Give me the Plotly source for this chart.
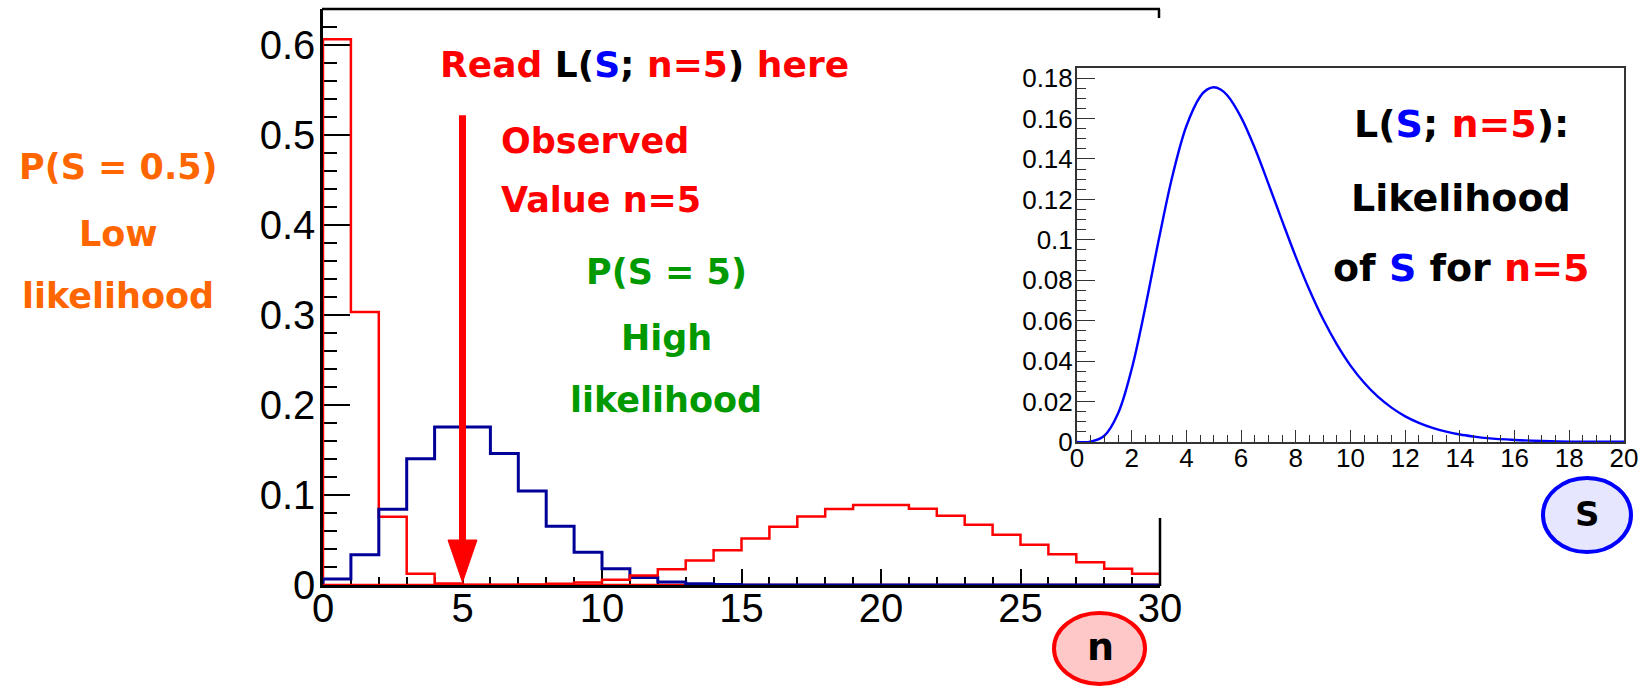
import plotly.graph_objects as go

W, H = 1639, 687

# ---------------- data ----------------
bin_edges = list(range(31))
# P(n | S=0.5)  (red, low)
red_low = [0.6065, 0.3033, 0.0758, 0.0126, 0.0016, 0.0002] + [0.0] * 24
# P(n | S=5)  (blue)
blue_mid = [0.0067, 0.0337, 0.0842, 0.1404, 0.1755, 0.1755, 0.1462, 0.1044,
            0.0653, 0.0363, 0.0181, 0.0082, 0.0034, 0.0013, 0.0005] + [0.0] * 15
# P(n | S=20)  (red, high)
red_high = [0.0, 0.0, 0.0, 0.0, 0.0, 0.0001, 0.0002, 0.0005, 0.0013, 0.0029,
            0.0058, 0.0106, 0.0176, 0.0271, 0.0387, 0.0516, 0.0646, 0.0760,
            0.0844, 0.0888, 0.0888, 0.0846, 0.0769, 0.0669, 0.0557, 0.0446,
            0.0343, 0.0254, 0.0181, 0.0125]

# Likelihood curve L(S; n=5)
lik_s = [0, 0.5, 1, 1.5, 2, 2.5, 3, 3.5, 4, 4.5, 4.75, 5, 5.25, 5.5, 6, 6.5, 7, 7.5, 8, 8.5,
         9, 9.5, 10, 10.5, 11, 11.5, 12, 12.5, 13, 13.5, 14, 14.5, 15, 16, 17,
         18, 19, 20]
lik_v = [0.0, 0.0002, 0.0031, 0.0141, 0.0361, 0.0668, 0.1008, 0.1322, 0.1563,
         0.1708, 0.1743, 0.1755, 0.1744, 0.1714, 0.1606, 0.1454, 0.1277, 0.1094, 0.0916, 0.0752,
         0.0607, 0.0483, 0.0378, 0.0293, 0.0224, 0.0170, 0.0127, 0.0095, 0.0070,
         0.0051, 0.0037, 0.0027, 0.0019, 0.0010, 0.0005, 0.0002, 0.0001, 0.0001]

main_xticks = [0, 5, 10, 15, 20, 25, 30]
main_yticks = [0, 0.1, 0.2, 0.3, 0.4, 0.5, 0.6]
main_ylabels = ["0", "0.1", "0.2", "0.3", "0.4", "0.5", "0.6"]
inset_xticks = [0, 2, 4, 6, 8, 10, 12, 14, 16, 18, 20]
inset_yticks = [0, 0.02, 0.04, 0.06, 0.08, 0.1, 0.12, 0.14, 0.16, 0.18]
inset_ylabels = ["0", "0.02", "0.04", "0.06", "0.08", "0.1", "0.12", "0.14", "0.16", "0.18"]

RED = "#ff0000"
NAVY = "#000099"
BLUE = "#0000ff"
GREEN = "#009a00"
ORANGE = "#ff6600"


def px(x):
    return x / W


def py(y):
    return 1 - y / H


def hist_xy(vals):
    xs = [bin_edges[0]] + bin_edges
    ys = [0.0] + list(vals) + [vals[-1]]
    return xs, ys


fig = go.Figure()

for vals, col, wid in [(red_low, RED, 2.5), (blue_mid, NAVY, 3), (red_high, RED, 2.5)]:
    xs, ys = hist_xy(vals)
    fig.add_trace(go.Scatter(x=xs, y=ys, mode="lines", line=dict(color=col, width=wid, shape="hv"),
                             xaxis="x", yaxis="y", showlegend=False, hoverinfo="skip"))

fig.add_trace(go.Scatter(x=lik_s, y=lik_v, mode="lines", line=dict(color=BLUE, width=2.4, shape="spline", smoothing=1.0),
                         xaxis="x2", yaxis="y2", showlegend=False, hoverinfo="skip"))

tickfont_main = dict(family="Liberation Sans, Arial", size=40, color="black")
tickfont_inset = dict(family="Liberation Sans, Arial", size=26, color="black")

fig.update_layout(
    width=W, height=H,
    margin=dict(l=0, r=0, t=0, b=0, autoexpand=False),
    paper_bgcolor="white", plot_bgcolor="rgba(0,0,0,0)",
    xaxis=dict(domain=[px(323), px(1160)], range=[0, 30], tickvals=main_xticks,
               ticks="inside", ticklen=16, tickwidth=1.5, tickcolor="black",
               minor=dict(ticks="inside", dtick=1, ticklen=8, tickwidth=1.5, tickcolor="black"),
               showline=True, linecolor="black", linewidth=2.5, showgrid=False, zeroline=False,
               tickfont=tickfont_main, anchor="y", layer="below traces", ticklabelstandoff=-14,
               automargin=False),
    yaxis=dict(domain=[py(585), py(9)], range=[0, 0.64], tickvals=main_yticks, ticktext=main_ylabels,
               ticks="inside", ticklen=27, tickwidth=1.5, tickcolor="black",
               minor=dict(ticks="inside", dtick=0.02, ticklen=14, tickwidth=1.5, tickcolor="black"),
               showline=True, linecolor="black", linewidth=2.5, showgrid=False, zeroline=False,
               tickfont=tickfont_main, anchor="x", layer="below traces", ticklabelstandoff=-3,
               automargin=False),
    xaxis2=dict(domain=[px(1077), px(1624)], range=[0, 20], tickvals=inset_xticks,
                ticks="inside", ticklen=12, tickwidth=1.2, tickcolor="#333",
                minor=dict(ticks="inside", dtick=0.5, ticklen=7, tickwidth=1.2, tickcolor="#333"),
                showline=True, mirror=True, linecolor="#333", linewidth=2, showgrid=False, zeroline=False,
                tickfont=tickfont_inset, anchor="y2", ticklabelstandoff=-8, automargin=False),
    yaxis2=dict(domain=[py(442), py(68)], range=[0, 0.185], tickvals=inset_yticks, ticktext=inset_ylabels,
                ticks="inside", ticklen=18, tickwidth=1.2, tickcolor="#333",
                minor=dict(ticks="inside", dtick=0.005, ticklen=9, tickwidth=1.2, tickcolor="#333"),
                showline=True, mirror=True, linecolor="#333", linewidth=2, showgrid=False, zeroline=False,
                tickfont=tickfont_inset, anchor="x2", ticklabelstandoff=-3, automargin=False),
)

shapes = []
# main frame top border and visible right border pieces
shapes.append(dict(type="line", xref="paper", yref="paper", x0=px(322), x1=px(1160), y0=py(9), y1=py(9),
                   line=dict(color="black", width=2.5)))
shapes.append(dict(type="line", xref="paper", yref="paper", x0=px(1159), x1=px(1159), y0=py(9), y1=py(18),
                   line=dict(color="black", width=2.5)))
shapes.append(dict(type="line", xref="paper", yref="paper", x0=px(1160), x1=px(1160), y0=py(518), y1=py(586),
                   line=dict(color="black", width=2.5)))

# arrow at observed n = 5
ARROW_X = 5
ARROW_TOP = 0.522
ARROW_HEAD_BASE = 0.05
ARROW_TIP = 0.003
ARROW_HALF = 0.52
shapes.append(dict(type="line", xref="x", yref="y", x0=ARROW_X, x1=ARROW_X, y0=ARROW_TOP, y1=ARROW_HEAD_BASE,
                   line=dict(color=RED, width=7)))
shapes.append(dict(type="path", xref="x", yref="y",
                   path=f"M {ARROW_X - ARROW_HALF} {ARROW_HEAD_BASE} L {ARROW_X + ARROW_HALF} {ARROW_HEAD_BASE} L {ARROW_X} {ARROW_TIP} Z",
                   fillcolor=RED, line=dict(color=RED, width=1)))

# ellipses for axis names
shapes.append(dict(type="circle", xref="paper", yref="paper", x0=px(1054), x1=px(1145), y0=py(684), y1=py(613),
                   fillcolor="#ffc8c8", line=dict(color=RED, width=4), layer="below"))
shapes.append(dict(type="circle", xref="paper", yref="paper", x0=px(1543), x1=px(1631), y0=py(552), y1=py(478),
                   fillcolor="#e6e6ff", line=dict(color=BLUE, width=4), layer="below"))
fig.update_layout(shapes=shapes)

AFONT = "DejaVu Sans"


def ann(text, x, y, size=36, color="black", xanchor="center"):
    fig.add_annotation(text=text, x=px(x), y=py(y), xref="paper", yref="paper", showarrow=False,
                       xanchor=xanchor, yanchor="middle",
                       font=dict(family=AFONT, size=size, color=color, weight="bold"))


def sp(t, c):
    return f"<span style='color:{c}'>{t}</span>"


ann(sp("Read ", RED) + sp("L(", "black") + sp("S", BLUE) + sp("; ", "black") + sp("n=5", RED)
    + sp(")", "black") + sp(" here", RED), 644, 64, color=RED)
ann("Observed", 499, 141, size=35, color=RED, xanchor="left")
ann("Value n=5", 499, 200, size=35, color=RED, xanchor="left")
ann("P(S = 5)", 666, 272, size=35, color=GREEN)
ann("High", 666, 338, size=35, color=GREEN)
ann("likelihood", 666, 400, size=35, color=GREEN)
ann("P(S = 0.5)", 118, 167, size=35, color=ORANGE)
ann("Low", 118, 234, size=35, color=ORANGE)
ann("likelihood", 118, 296, size=35, color=ORANGE)
ann(sp("L(", "black") + sp("S", BLUE) + sp("; ", "black") + sp("n=5", RED) + sp("):", "black"), 1461, 124, size=38)
ann("Likelihood", 1461, 198, size=38)
ann(sp("of ", "black") + sp("S", BLUE) + sp(" for ", "black") + sp("n=5", RED), 1461, 268, size=38)
ann("n", 1100, 647, size=38)
ann("S", 1587, 514, size=34)

fig.write_html("out.html")
